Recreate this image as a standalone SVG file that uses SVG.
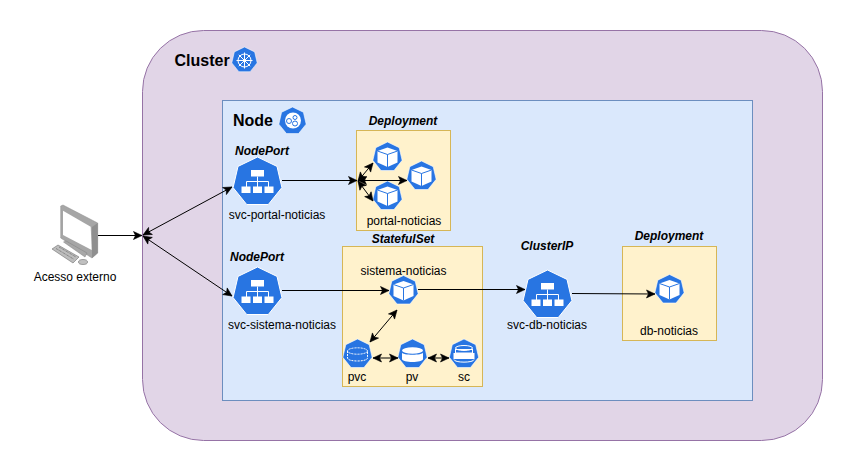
<svg xmlns="http://www.w3.org/2000/svg" width="854" height="471" viewBox="0 0 854 471">
<style>
text{font-family:"Liberation Sans",Arial,sans-serif;fill:#000}
.l{font-size:12px;text-anchor:middle}
.i{font-size:12px;font-weight:bold;font-style:italic;text-anchor:middle}
.t{font-size:16px;font-weight:bold}
.c{fill:none;stroke:#000;stroke-width:1}
.b{fill:#fff2cc;stroke:#d6b656}
.w{fill:none;stroke:#fff;stroke-width:1}
.f{fill:#fff}
.k{fill:#2875e2;stroke:#fff;stroke-width:1}
.u{fill:none;stroke:#2875e2;stroke-width:1}
</style>
<defs>
<marker id="a" viewBox="0 0 10 10" refX="9.500" refY="5" markerWidth="10" markerHeight="10" markerUnits="userSpaceOnUse" orient="auto-start-reverse"><path d="M1 1L9.500 5L1 9L3 5Z" fill="#000" stroke="#000" stroke-width=".6"/></marker>
<path id="h" d="M0-25L19.500-15.600L24.400 5.600L10.800 22.500H-10.800L-24.400 5.600L-19.500-15.600Z"/>
<g id="svc"><use href="#h" class="k"/>
<rect x="-6.500" y="-12" width="13" height="6.500" class="f"/>
<path d="M0-5.500V-.5M-11 5V-.5H11V5M0-.5V5" class="w"/>
<rect x="-16" y="4.500" width="9" height="6.500" class="f"/><rect x="-4.500" y="4.500" width="9" height="6.500" class="f"/><rect x="7" y="4.500" width="9" height="6.500" class="f"/></g>
<g id="pod"><use href="#h" transform="scale(.6)" class="k"/>
<path d="M0-9.500L10-6V5.500L0 10L-10 5.500V-6Z" class="f"/><path d="M-10-6L0-2.500L10-6M0-2.500V10" class="u"/></g>
<g id="vol"><use href="#h" transform="scale(.6)" class="k"/>
<ellipse cx="0" cy="-3.500" rx="10.500" ry="3.200" class="f"/><path d="M-10.500-1.500V5C-10.500 9 10.500 9 10.500 5V-1.500C10.500 1.500-10.500 1.500-10.500-1.500Z" class="f"/></g>
<g id="vold"><use href="#h" transform="scale(.6)" class="k"/>
<ellipse cx="0" cy="-3" rx="10" ry="3.200" fill="none" stroke="#fff" stroke-dasharray="2 1"/><path d="M-10-3V4C-10 8 10 8 10 4V-3" fill="none" stroke="#fff" stroke-dasharray="2 1"/></g>
<g id="sc"><use href="#h" transform="scale(.6)" class="k"/>
<ellipse cx="0" cy="-6" rx="8.500" ry="2.500" fill="none" stroke="#fff"/><rect x="-8.500" y="-4.500" width="17" height="3.500" fill="none" stroke="#fff"/><rect x="-10.500" y="-1" width="21" height="6" class="f"/><path d="M-10 5.500C-10 9 10 9 10 5.500" fill="none" stroke="#fff"/></g>
</defs>
<rect x="142.500" y="30.500" width="680" height="410" rx="61" fill="#e1d5e7" stroke="#9673a6"/>
<rect x="222.500" y="100.500" width="530" height="300" fill="#dae8fc" stroke="#6c8ebf"/>
<g id="cluster"><text x="174.500" y="66" class="t">Cluster</text>
<use href="#h" transform="translate(244.500 60) scale(.52)" class="k"/>
<circle cx="244.500" cy="60.500" r="6.500" class="w" stroke-width="1.300"/><path d="M244.500 52.500V68.500M236.500 60.500H252.500M238.800 54.800L250.200 66.200M250.200 54.800L238.800 66.200" class="w"/></g>
<g id="node"><text x="233" y="126" class="t">Node</text>
<use href="#h" transform="translate(292.500 121) scale(.56)" class="k"/>
<circle cx="293" cy="120.500" r="8" class="f"/><circle cx="289" cy="121" r="2.500" class="u"/><circle cx="295" cy="117.500" r="2" class="u"/><circle cx="295" cy="123.500" r="2.500" class="u"/></g>
<g id="external">
<path d="M60.700 206L63 205L97.700 223V253L92 258L60.700 238Z" fill="#a6a6a6" stroke="#8c8c8c" stroke-width=".5"/>
<path d="M92 227L97.700 223V253L92 258Z" fill="#8f8f8f"/>
<path d="M63 210.700L90.700 226.700L91.700 250L63 235Z" fill="#fff"/>
<path d="M63.500 242L66 241L87 253L85 257Z" fill="#a8a8a8" stroke="#808080" stroke-width=".5"/>
<path d="M52 249L58 245L79 257L73 263Z" fill="#bdbdbd" stroke="#6f6f6f" stroke-width=".6"/>
<path d="M56 248.500L73.500 259M59 247L76 257" fill="none" stroke="#7a7a7a" stroke-width="1" stroke-dasharray="1 .6"/>
<ellipse cx="83" cy="262" rx="4.500" ry="2.500" fill="#c0c0c0" stroke="#6f6f6f" stroke-width=".6"/>
<text x="75" y="281" class="l">Acesso externo</text></g>
<g id="deployment-portal"><rect x="356.500" y="130.500" width="94" height="100" class="b"/>
<text x="403" y="125" class="i">Deployment</text>
<use href="#pod" x="387.500" y="157"/><use href="#pod" x="421.500" y="176"/><use href="#pod" x="387.500" y="196"/>
<text x="404" y="225" class="l">portal-noticias</text></g>
<g id="statefulset"><rect x="342.500" y="246.500" width="140" height="140" class="b"/>
<text x="403" y="243" class="i">StatefulSet</text>
<text x="403.500" y="275" class="l">sistema-noticias</text>
<use href="#pod" x="403.500" y="290.500"/>
<use href="#vold" x="357.500" y="354"/><use href="#vol" x="412.500" y="354"/><use href="#sc" x="464" y="354"/>
<text x="357" y="381" class="l">pvc</text><text x="412" y="381" class="l">pv</text><text x="464" y="381" class="l">sc</text></g>
<g id="deployment-db"><rect x="622.500" y="246.500" width="94" height="94" class="b"/>
<text x="669" y="240" class="i">Deployment</text>
<use href="#pod" x="669.500" y="289.500"/>
<text x="669" y="335" class="l">db-noticias</text></g>
<g id="svc-portal"><use href="#svc" x="257.500" y="182"/><text x="277" y="219" class="l">svc-portal-noticias</text><text x="262" y="155" class="i">NodePort</text></g>
<g id="svc-sistema"><use href="#svc" x="257.500" y="292"/><text x="282" y="329" class="l">svc-sistema-noticias</text><text x="257" y="261" class="i">NodePort</text></g>
<g id="svc-db"><use href="#svc" x="547.500" y="295"/><text x="547" y="329" class="l">svc-db-noticias</text><text x="547" y="250" class="i">ClusterIP</text></g>
<g id="connectors" class="c">
<path d="M98 235.500H142" marker-end="url(#a)"/>
<path d="M143 235L232 187" marker-start="url(#a)" marker-end="url(#a)"/>
<path d="M143 236L232 296" marker-start="url(#a)" marker-end="url(#a)"/>
<path d="M282 180.500H357" marker-end="url(#a)"/>
<path d="M358 181L373 163" marker-start="url(#a)" marker-end="url(#a)"/>
<path d="M358 180.500H407" marker-start="url(#a)" marker-end="url(#a)"/>
<path d="M358 181L373 201" marker-start="url(#a)" marker-end="url(#a)"/>
<path d="M282 290.500H389" marker-end="url(#a)"/>
<path d="M418 289.500H525" marker-end="url(#a)"/>
<path d="M572 293.500L655 294" marker-end="url(#a)"/>
<path d="M370 342L397 310" marker-start="url(#a)" marker-end="url(#a)"/>
<path d="M373 358H398" marker-start="url(#a)" marker-end="url(#a)"/>
<path d="M428 358H449" marker-start="url(#a)" marker-end="url(#a)"/>
</g>
</svg>
